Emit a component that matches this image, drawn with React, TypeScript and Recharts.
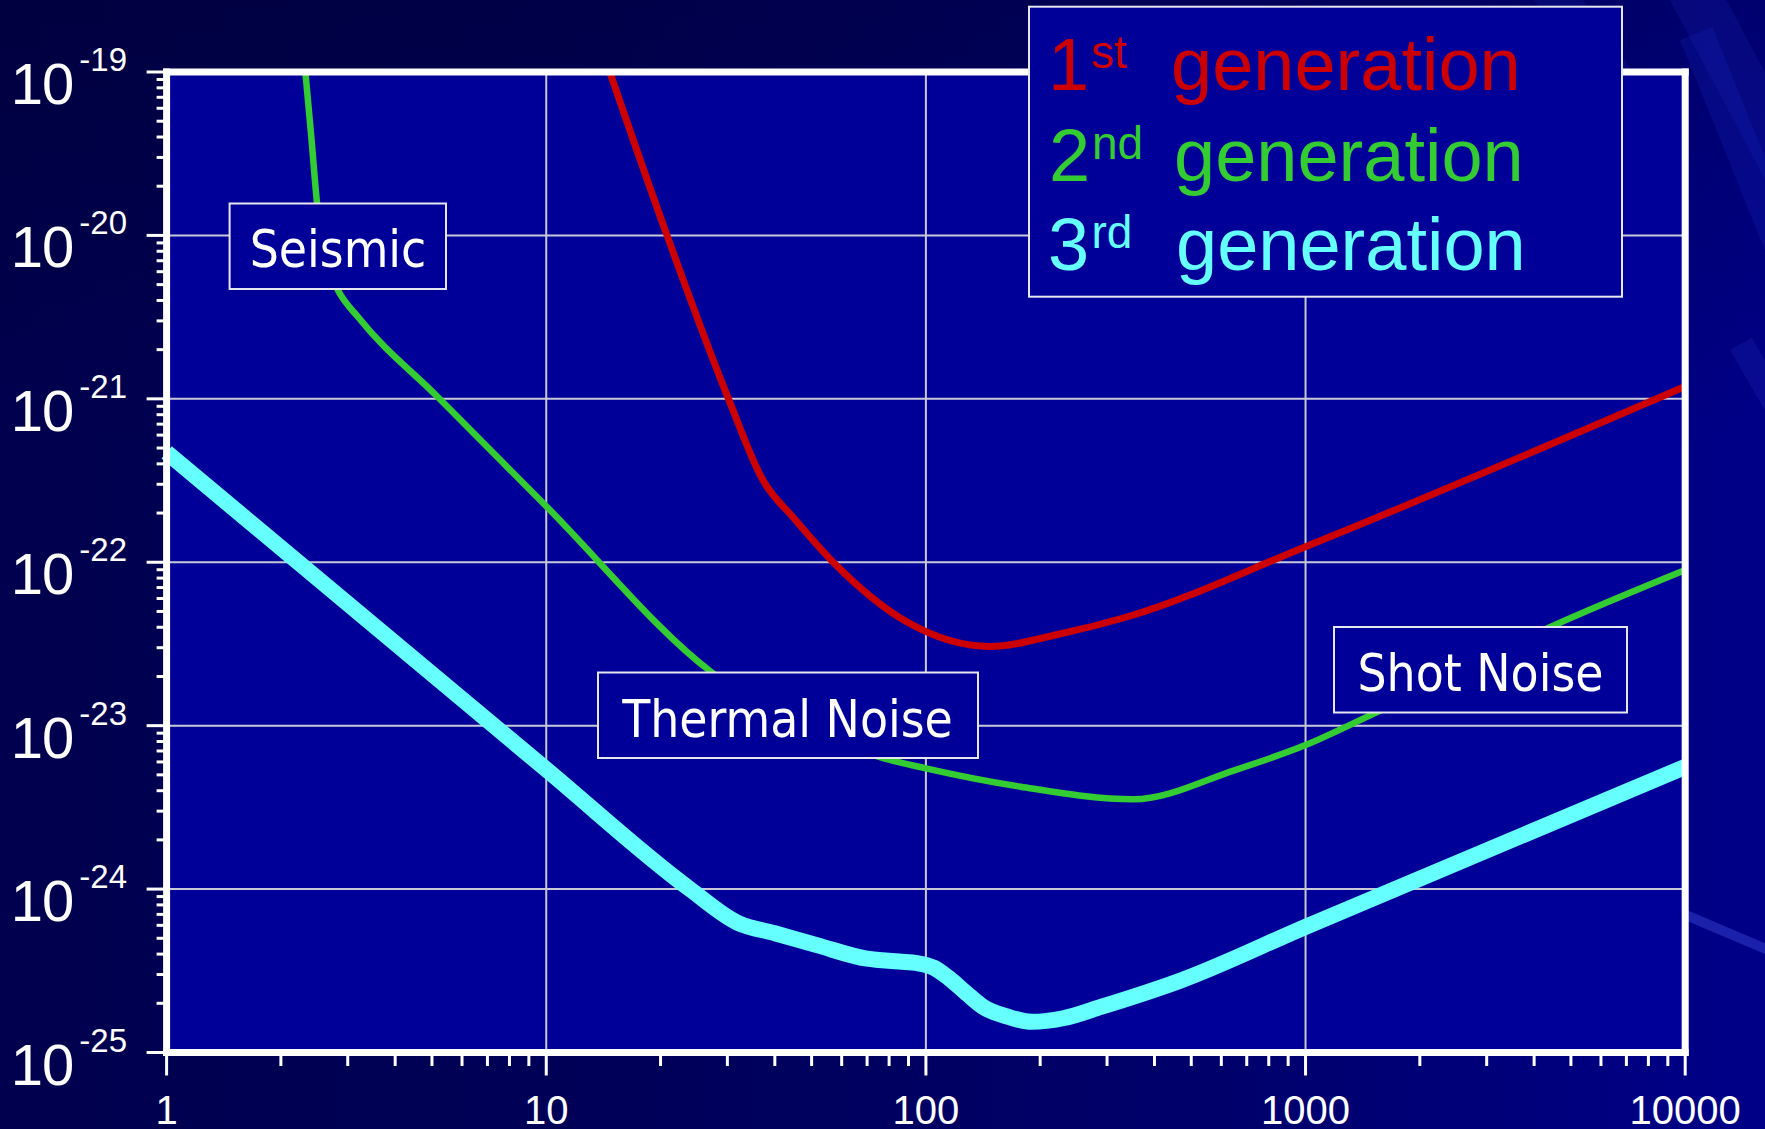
import React from 'react';
import { LineChart, Line, XAxis, YAxis, CartesianGrid, ReferenceLine } from 'recharts';

// ---------- data ----------
const xMajorTicks = [1, 10, 100, 1000, 10000];
const xTickLabels = ['1', '10', '100', '1000', '10000'];
const yMajorTicks = [1e-25, 1e-24, 1e-23, 1e-22, 1e-21, 1e-20, 1e-19];
const yExponentLabels = ['-25', '-24', '-23', '-22', '-21', '-20', '-19'];
const minorMultipliers = [2, 3, 4, 5, 6, 7, 8, 9];
const xGridValues = [10, 100, 1000];
const yGridValues = [1e-24, 1e-23, 1e-22, 1e-21, 1e-20];

// 1st generation (red)
const gen1Freq = [14.7, 20.8, 30.2, 37.3, 44.8, 57.0, 89.0, 147.5, 225, 340, 1000, 10000];
const gen1Strain = [1e-19, 1e-20, 1e-21, 3.15e-22, 1.87e-22, 1e-22, 4.32e-23, 3.05e-23, 3.64e-23, 4.64e-23, 1.245e-22, 1.19e-21];

// 2nd generation (green)
const gen2Freq = [2.32, 2.404, 2.49, 2.7, 2.83, 3.21, 5.17, 10, 27.2, 77.2, 100, 177.7, 351.7, 652, 1000, 1517, 4431, 10000];
const gen2Strain = [1e-19, 4.05e-20, 1.58e-20, 5.82e-21, 4.6e-21, 3.12e-21, 1.03e-21, 2.2e-22, 2.13e-23, 6.34e-24, 5.48e-24, 4.23e-24, 3.54e-24, 5.35e-24, 7.61e-24, 1.19e-23, 4.03e-23, 8.96e-23];

// 3rd generation (cyan)
const gen3Freq = [1, 10, 23.9, 32, 40, 51.6, 70, 85, 95, 105, 115, 128, 141.6, 165, 190, 230, 289, 471, 1000, 10000];
const gen3Strain = [4.7e-22, 5.4e-24, 1e-24, 6.21e-25, 5.37e-25, 4.54e-25, 3.75e-25, 3.6e-25, 3.52e-25, 3.3e-25, 2.85e-25, 2.3e-25, 1.9e-25, 1.65e-25, 1.54e-25, 1.62e-25, 1.9e-25, 2.77e-25, 5.88e-25, 5.6e-24];

const legendSuperscripts = ['st', 'nd', 'rd'];
const legendDigits = ['1', '2', '3'];
const legendWord = 'generation';
const annotationLabels = ['Seismic', 'Thermal Noise', 'Shot Noise'];

// ---------- derived tables ----------
const toSeries = (fs: number[], hs: number[]) => fs.map((f, i) => ({ f, h: hs[i] }));
const gen1Data = toSeries(gen1Freq, gen1Strain);
const gen2Data = toSeries(gen2Freq, gen2Strain);
const gen3Data = toSeries(gen3Freq, gen3Strain);

const xAllTicks = [
  ...xMajorTicks,
  ...xMajorTicks.slice(0, -1).flatMap((d) => minorMultipliers.map((m) => m * d)),
].sort((a, b) => a - b);
const yAllTicks = [
  ...yMajorTicks,
  ...yMajorTicks.slice(0, -1).flatMap((d) => minorMultipliers.map((m) => m * d)),
].sort((a, b) => a - b);

const xMajorIndex = (v: number) => xMajorTicks.findIndex((t) => Math.abs(t - v) / t < 1e-6);
const yMajorIndex = (v: number) => yMajorTicks.findIndex((t) => Math.abs(t - v) / t < 1e-6);

// ---------- styling ----------
const W = 1765;
const H = 1129;
const RED = '#cc0000';
const GREEN = '#33cc33';
const CYAN = '#66ffff';
const PLOT_BG = '#000099';
const ARIAL = '"Liberation Sans", Arial, sans-serif';
const TAHOMA = '"DejaVu Sans Condensed", "DejaVu Sans", sans-serif';

const BottomTick = (props: any) => {
  const { x, y, payload } = props;
  const idx = xMajorIndex(payload.value);
  const major = idx >= 0;
  return (
    <g>
      <line x1={x} x2={x} y1={y} y2={y + (major ? 23 : 13.5)} stroke="#ffffff" strokeWidth={3} />
      {major && (
        <text x={x} y={y + 71.5} textAnchor="middle" fill="#ffffff" fontSize={40} fontFamily={ARIAL}>
          {xTickLabels[idx]}
        </text>
      )}
    </g>
  );
};

const TopTick = (props: any) => {
  const { x, y, payload } = props;
  const major = xMajorIndex(payload.value) >= 0;
  return <line x1={x} x2={x} y1={y} y2={y - (major ? 17 : 9)} stroke="#ffffff" strokeWidth={3} />;
};

const LeftTick = (props: any) => {
  const { x, y, payload } = props;
  const idx = yMajorIndex(payload.value);
  const major = idx >= 0;
  return (
    <g>
      <line x1={x} x2={x - (major ? 20 : 10)} y1={y} y2={y} stroke="#ffffff" strokeWidth={3} />
      {major && (
        <text x={127} y={y + 32} textAnchor="end" fill="#ffffff" fontFamily={ARIAL}>
          <tspan fontSize={58} letterSpacing={-1}>10</tspan>
          <tspan fontSize={33} dx={6} dy={-33}>
            {yExponentLabels[idx]}
          </tspan>
        </text>
      )}
    </g>
  );
};

const streaks = [
  { left: 1590, top: -150, w: 50, h: 700, rot: -28, c: 'rgba(40,60,220,0.14)' },
  { left: 1680, top: 40, w: 35, h: 1100, rot: -22, c: 'rgba(30,50,210,0.18)' },
  { left: 1730, top: 350, w: 25, h: 800, rot: -30, c: 'rgba(60,80,230,0.14)' },
  { left: 1450, top: -120, w: 40, h: 260, rot: -35, c: 'rgba(40,60,200,0.14)' },
  { left: 1680, top: 918, w: 10, h: 300, rot: -67, c: 'rgba(90,110,255,0.3)' },
];

export default function App() {
  return (
    <div
      style={{
        position: 'absolute',
        left: 0,
        top: 0,
        width: W,
        height: H,
        overflow: 'hidden',
        fontFamily: ARIAL,
        background:
          'linear-gradient(to right, #00004e 0%, #000058 35%, #00006c 70%, #000088 100%)',
      }}
    >
      <div
        style={{
          position: 'absolute',
          inset: 0,
          background: 'linear-gradient(to bottom, rgba(0,0,0,0.18) 0%, rgba(0,0,0,0) 40%, rgba(0,0,40,0) 100%)',
        }}
      />
      {streaks.map((s, i) => (
        <div
          key={i}
          style={{
            position: 'absolute',
            left: s.left,
            top: s.top,
            width: s.w,
            height: s.h,
            background: s.c,
            transform: `rotate(${s.rot}deg)`,
            transformOrigin: 'top left',
          }}
        />
      ))}
      <div style={{ position: 'absolute', left: 0, top: 0 }}>
        <LineChart width={W} height={H} margin={{ top: 0, right: 0, bottom: 0, left: 0 }}>
          <CartesianGrid fill={PLOT_BG} horizontal={false} vertical={false} />
          {xGridValues.map((v) => (
            <ReferenceLine key={'gx' + v} x={v} stroke="#c8c8d8" strokeWidth={2} />
          ))}
          {yGridValues.map((v) => (
            <ReferenceLine key={'gy' + v} y={v} stroke="#c8c8d8" strokeWidth={2} />
          ))}
          <Line
            data={gen1Data}
            dataKey="h"
            type="monotone"
            stroke={RED}
            strokeWidth={7}
            dot={false}
            activeDot={false}
            isAnimationActive={false}
          />
          <Line
            data={gen2Data}
            dataKey="h"
            type="monotone"
            stroke={GREEN}
            strokeWidth={6.5}
            dot={false}
            activeDot={false}
            isAnimationActive={false}
          />
          <Line
            data={gen3Data}
            dataKey="h"
            type="monotone"
            stroke={CYAN}
            strokeWidth={16}
            dot={false}
            activeDot={false}
            isAnimationActive={false}
          />
          <XAxis
            dataKey="f"
            type="number"
            scale="log"
            domain={[1, 10000]}
            ticks={xAllTicks}
            interval={0}
            height={76.5}
            tickSize={0}
            tickMargin={0}
            tickLine={false}
            tick={<BottomTick />}
            axisLine={{ stroke: '#ffffff', strokeWidth: 7, strokeLinecap: 'square' }}
          />
          <XAxis
            xAxisId="top"
            orientation="top"
            type="number"
            scale="log"
            domain={[1, 10000]}
            ticks={xAllTicks}
            interval={0}
            height={72}
            tickSize={0}
            tickMargin={0}
            tickLine={false}
            tick={<TopTick />}
            axisLine={{ stroke: '#ffffff', strokeWidth: 7, strokeLinecap: 'square' }}
          />
          <YAxis
            type="number"
            scale="log"
            domain={[1e-25, 1e-19]}
            ticks={yAllTicks}
            interval={0}
            width={166.6}
            tickSize={0}
            tickMargin={0}
            tickLine={false}
            tick={<LeftTick />}
            axisLine={{ stroke: '#ffffff', strokeWidth: 7, strokeLinecap: 'square' }}
          />
          <YAxis
            yAxisId="right"
            orientation="right"
            type="number"
            scale="log"
            domain={[1e-25, 1e-19]}
            width={79.8}
            tick={false}
            tickLine={false}
            axisLine={{ stroke: '#ffffff', strokeWidth: 7, strokeLinecap: 'square' }}
          />
        </LineChart>
      </div>
      <svg
        width={W}
        height={H}
        style={{ position: 'absolute', left: 0, top: 0, pointerEvents: 'none' }}
      >
        {/* Seismic */}
        <rect x={229.6} y={203.5} width={216.4} height={85.5} fill={PLOT_BG} stroke="#e6e6ee" strokeWidth={2} />
        <text x={338} y={266.5} textAnchor="middle" fill="#ffffff" fontSize={51} fontFamily={TAHOMA}>
          {annotationLabels[0]}
        </text>
        {/* Thermal Noise */}
        <rect x={598} y={672.5} width={380} height={85.5} fill={PLOT_BG} stroke="#e6e6ee" strokeWidth={2} />
        <text x={787.5} y={736.5} textAnchor="middle" fill="#ffffff" fontSize={51} fontFamily={TAHOMA}>
          {annotationLabels[1]}
        </text>
        {/* Shot Noise */}
        <rect x={1334} y={627} width={293} height={85.5} fill={PLOT_BG} stroke="#e6e6ee" strokeWidth={2} />
        <text x={1480.5} y={690.5} textAnchor="middle" fill="#ffffff" fontSize={51} fontFamily={TAHOMA}>
          {annotationLabels[2]}
        </text>
        {/* Legend */}
        <rect x={1029} y={6.7} width={593} height={290} fill={PLOT_BG} stroke="#e6e6ee" strokeWidth={2} />
        {[RED, GREEN, CYAN].map((c, i) => {
          const base = [90, 181, 270][i];
          const dx = [1048, 1049, 1048][i];
          const sx = [1091, 1092, 1091.5][i];
          const gx = [1171, 1174, 1176][i];
          return (
            <g key={i} fill={c} fontFamily={ARIAL}>
              <text x={dx} y={base} fontSize={74}>{legendDigits[i]}</text>
              <text x={sx} y={base - 22} fontSize={46}>{legendSuperscripts[i]}</text>
              <text x={gx} y={base} fontSize={74}>{legendWord}</text>
            </g>
          );
        })}
      </svg>
    </div>
  );
}
